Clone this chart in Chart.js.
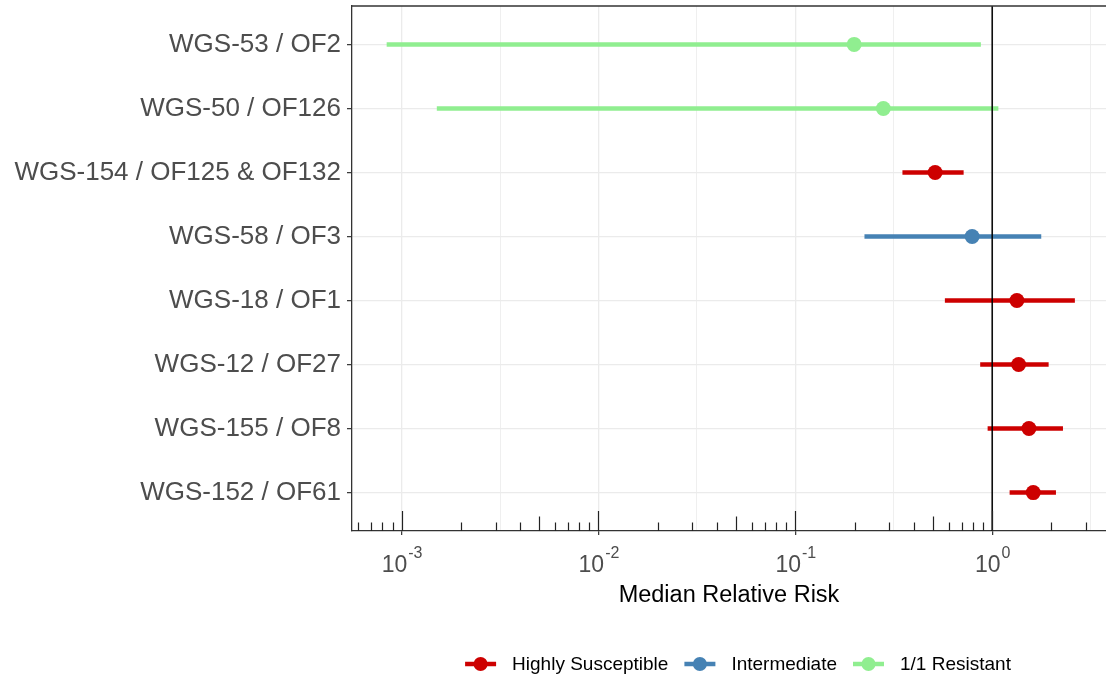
<!DOCTYPE html>
<html>
<head>
<meta charset="utf-8">
<script src="https://cdn.jsdelivr.net/npm/chart.js@4"></script>
<style>
  body { margin: 0; background: #fff; }
  #wrap { width: 1106px; height: 678px; }
</style>
</head>
<body>
<div id="wrap"><canvas id="forest" width="1106" height="678"></canvas></div>
<script>
const categories = ['WGS-53 / OF2', 'WGS-50 / OF126', 'WGS-154 / OF125 & OF132', 'WGS-58 / OF3',
                    'WGS-18 / OF1', 'WGS-12 / OF27', 'WGS-155 / OF8', 'WGS-152 / OF61'];
const median = [0.199, 0.280, 0.513, 0.791, 1.335, 1.362, 1.537, 1.616];
const lower  = [0.00084, 0.00151, 0.350, 0.2245, 0.575, 0.869, 0.948, 1.226];
const upper  = [0.876, 1.075, 0.716, 1.775, 2.63, 1.935, 2.288, 2.108];
const group  = ['1/1 Resistant', '1/1 Resistant', 'Highly Susceptible', 'Intermediate',
                'Highly Susceptible', 'Highly Susceptible', 'Highly Susceptible', 'Highly Susceptible'];
const groupNames  = ['Highly Susceptible', 'Intermediate', '1/1 Resistant'];
const groupColors = ['#CD0000', '#4682B4', '#90EE90'];
const xDecades = [-3, -2, -1, 0];

const FONT = '"Liberation Sans", Arial, sans-serif';

function colorOf(g) { return groupColors[groupNames.indexOf(g)]; }

const datasets = [];
// reference line at 1
datasets.push({
  data: [{x: 1, y: 0.4}, {x: 1, y: 8.6}],
  showLine: true, borderColor: '#000', borderWidth: 1.5, pointRadius: 0, order: 0
});
// points per group
groupNames.forEach((g, gi) => {
  const pts = [];
  for (let i = 0; i < categories.length; i++) {
    if (group[i] === g) pts.push({x: median[i], y: i + 1});
  }
  datasets.push({
    label: g, data: pts, showLine: false,
    pointRadius: 7.5, pointBorderWidth: 0,
    backgroundColor: groupColors[gi], borderColor: groupColors[gi], order: 1
  });
});
// ranges per row
for (let i = 0; i < categories.length; i++) {
  datasets.push({
    data: [{x: lower[i], y: i + 1}, {x: upper[i], y: i + 1}],
    showLine: true, borderColor: colorOf(group[i]), borderWidth: 4.5,
    borderCapStyle: 'butt', pointRadius: 0, order: 2
  });
}

function isDecade(v) {
  const e = Math.log10(v);
  return Math.abs(e - Math.round(e)) < 1e-6;
}

function noPad(s) {
  s.paddingTop = 0; s.paddingBottom = 0; s.paddingLeft = 0; s.paddingRight = 0;
}

const extras = {
  id: 'extras',
  afterDraw(chart) {
    const ctx = chart.ctx, a = chart.chartArea, xs = chart.scales.x;
    ctx.save();
    // top border
    ctx.strokeStyle = '#333';
    ctx.lineWidth = 1.3;
    ctx.beginPath();
    ctx.moveTo(a.left, a.top);
    ctx.lineTo(a.right, a.top);
    ctx.stroke();

    // log ticks inside bottom
    ctx.strokeStyle = '#222';
    ctx.lineWidth = 1.2;
    for (let d = -4; d <= 0; d++) {
      for (let k = 1; k <= 9; k++) {
        const v = k * Math.pow(10, d);
        if (v < xs.min || v > xs.max) continue;
        const px = Math.round(xs.getPixelForValue(v)) + 0.5;
        const len = k === 1 ? 20 : (k === 5 ? 14.5 : 8.5);
        ctx.beginPath();
        ctx.moveTo(px, a.bottom);
        ctx.lineTo(px, a.bottom - len);
        ctx.stroke();
      }
    }

    // x tick labels 10^e
    ctx.fillStyle = '#4d4d4d';
    ctx.textBaseline = 'alphabetic';
    ctx.textAlign = 'left';
    xDecades.forEach(e => {
      const px = xs.getPixelForValue(Math.pow(10, e));
      ctx.font = '23px ' + FONT;
      const w1 = ctx.measureText('10').width;
      ctx.font = '16px ' + FONT;
      const w2 = ctx.measureText(String(e)).width;
      const x0 = px - (w1 + w2) / 2;
      ctx.font = '23px ' + FONT;
      ctx.fillText('10', x0, 572);
      ctx.font = '16px ' + FONT;
      ctx.fillText(String(e), x0 + w1 + 1, 558);
    });

    // legend
    ctx.font = '19px ' + FONT;
    const keyW = 31, gap = 16;
    let total = 0;
    groupNames.forEach((g, i) => {
      total += keyW + gap + ctx.measureText(g).width;
      if (i < groupNames.length - 1) total += gap;
    });
    let x = 738 - total / 2;
    const ly = 664;
    groupNames.forEach((g, i) => {
      ctx.strokeStyle = groupColors[i];
      ctx.fillStyle = groupColors[i];
      ctx.lineWidth = 4.5;
      ctx.beginPath();
      ctx.moveTo(x, ly);
      ctx.lineTo(x + keyW, ly);
      ctx.stroke();
      ctx.beginPath();
      ctx.arc(x + keyW / 2, ly, 7, 0, Math.PI * 2);
      ctx.fill();
      x += keyW + gap;
      ctx.fillStyle = '#000';
      ctx.textBaseline = 'middle';
      ctx.fillText(g, x, ly + 1);
      x += ctx.measureText(g).width + gap;
    });
    ctx.restore();
  }
};

new Chart(document.getElementById('forest'), {
  type: 'scatter',
  data: { datasets: datasets },
  options: {
    responsive: false,
    animation: false,
    layout: { autoPadding: false, padding: { top: 6, right: 0, bottom: 0, left: 0 } },
    plugins: { legend: { display: false }, tooltip: { enabled: false } },
    scales: {
      x: {
        type: 'logarithmic',
        min: 0.00056, max: 3.785,
        afterBuildTicks: s => {
          const t = [];
          for (let e = -3.5; e <= 0.5; e += 0.5) {
            const v = Math.pow(10, e);
            if (v >= s.min && v <= s.max) t.push({value: v});
          }
          s.ticks = t;
        },
        afterFit: s => { s.height = 147; noPad(s); },
        ticks: { display: false },
        grid: {
          color: '#ebebeb',
          lineWidth: c => (c.tick && isDecade(c.tick.value)) ? 1.3 : 0.8,
          tickLength: 4,
          tickColor: c => (c.tick && isDecade(c.tick.value)) ? '#333' : 'rgba(0,0,0,0)',
          tickWidth: 1.2
        },
        border: { display: true, color: '#333', width: 1.3 },
        title: {
          display: true, text: 'Median Relative Risk', color: '#000',
          font: { family: FONT, size: 23.5 },
          padding: { top: 0, bottom: 68 }
        }
      },
      y: {
        type: 'linear',
        reverse: true,
        min: 0.4, max: 8.6,
        afterBuildTicks: s => {
          s.ticks = categories.map((c, i) => ({value: i + 1}));
        },
        afterFit: s => { s.width = 352; noPad(s); },
        ticks: {
          callback: v => categories[Math.round(v) - 1] || '',
          color: '#4d4d4d',
          font: { family: FONT, size: 26 },
          padding: 6
        },
        grid: { color: '#ebebeb', lineWidth: 1.3, tickLength: 5, tickColor: '#333', tickWidth: 1.2 },
        border: { display: true, color: '#333', width: 1.3 }
      }
    }
  },
  plugins: [extras]
});
</script>
</body>
</html>
